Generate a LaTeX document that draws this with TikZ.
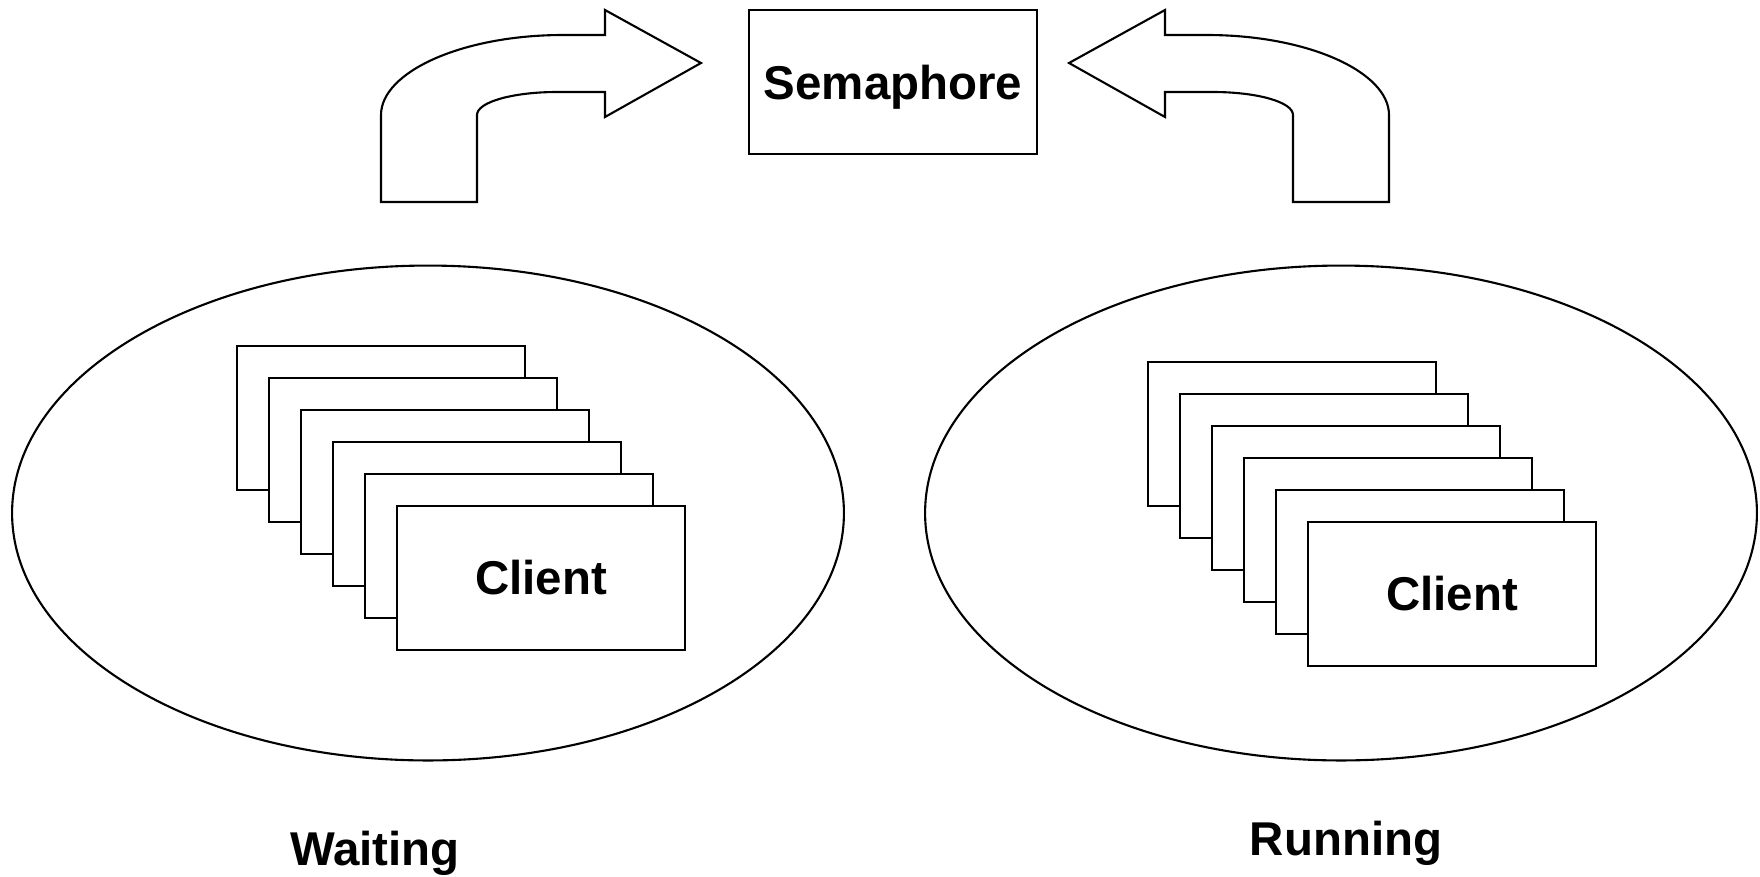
\documentclass[tikz,border=0pt]{standalone}
\usepackage{fontspec}
\setmainfont{Liberation Sans}
\usetikzlibrary{shapes.geometric,positioning}

\tikzset{
  bentarrow/.pic={
    \draw (381,202) -- (381,115) .. controls (381,72) and (462,35) .. (563,35)
      -- (605,35) -- (605,10) -- (701,63) -- (605,117) -- (605,92) -- (557,92)
      .. controls (513,92) and (477,102) .. (477,115) -- (477,202) -- cycle;
  }
}

\begin{document}
\begin{tikzpicture}[x=0.02cm,y=-0.02cm,line width=1.2pt,
    font=\fontsize{27}{32}\selectfont\bfseries]
  \useasboundingbox (0,0) rectangle (1760,876);
  \begin{scope}[every node/.style={ellipse,draw,inner sep=0pt,
      minimum width=16.64cm,minimum height=9.9cm}]
    \node (waitpool) at (428,513) {};
    \node (runpool) at (1341,513) {};
  \end{scope}
  \begin{scope}[every node/.style={rectangle,draw,fill=white,inner sep=0pt,
      minimum width=5.76cm,minimum height=2.88cm}]
    \node (sem) [text depth=0pt] at (893,82) {Semaphore};
    \foreach \i in {0,...,4} {
      \node (w\i) at (381+32*\i,418+32*\i) {};
      \node (r\i) at (1292+32*\i,434+32*\i) {};
    }
    \node (w5) at (541,578) {Client};
    \node (r5) at (1452,594) {Client};
  \end{scope}
  \pic at (0,0) {bentarrow};
  \pic[xscale=-1] at (1770,0) {bentarrow};
  \node (waitlbl) [anchor=base] at (375,865) {Waiting};
  \node (runlbl) [anchor=base] at (1346,855) {Running};
\end{tikzpicture}
\end{document}
